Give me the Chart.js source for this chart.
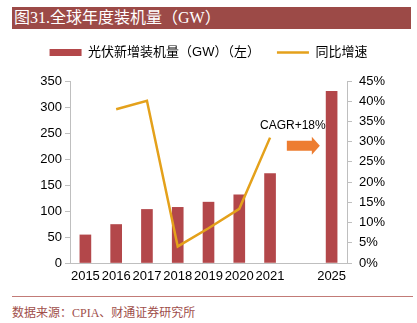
<!DOCTYPE html>
<html>
<head>
<meta charset="utf-8">
<script src="https://cdn.jsdelivr.net/npm/chart.js@4.4.0/dist/chart.umd.min.js"></script>
<style>
  body { margin: 0; width: 417px; height: 323px; background: #fff; position: relative; overflow: hidden; }
  #title { position: absolute; left: 12px; top: 7px; width: 399px; height: 22px; background: #9c4a47; color: #fff;
           font: 16px "Liberation Serif", "Noto Sans CJK SC", serif; line-height: 22px; padding-left: 2px; box-sizing: border-box; }
  #wrap { position: absolute; left: 0; top: 29px; width: 417px; height: 263px; }
  #rule { position: absolute; left: 12px; top: 296px; width: 401px; height: 1px; background: #c27b77; }
  #src { position: absolute; left: 12px; top: 303px; font: 12px "Liberation Serif", "Noto Sans CJK SC", serif; color: #a04e4a; }
</style>
</head>
<body>
<div id="title">图31.全球年度装机量（GW）</div>
<div id="wrap"><canvas id="chart" width="417" height="263"></canvas></div>
<div id="rule"></div>
<div id="src">数据来源：CPIA、财通证券研究所</div>
<script>
// data
var years = ['2015', '2016', '2017', '2018', '2019', '2020', '2021', '', '2025'];
var capacity = [54, 74, 103, 107, 117, 131, 172, null, 330];   // GW, left axis
var growth = [null, 38.0, 40.1, 4.1, 8.6, 13.4, 31.0, null, null]; // %, right axis
var barName = '光伏新增装机量（GW）（左）';
var lineName = '同比增速';
var note = 'CAGR+18%';

Chart.defaults.font.family = '"Liberation Sans", Arial, "Noto Sans CJK SC", sans-serif';
Chart.defaults.font.size = 13;
Chart.defaults.color = '#000';

var axisGrey = '#bfbfbf';

// keep legend height fixed so the plot sits where the original does
var legendGap = {
  id: 'legendGap',
  afterInit: function(chart) {
    var fit = chart.legend.fit;
    chart.legend.fit = function() {
      fit.call(this);
      this.height = 52;
    };
  }
};

// CAGR text + orange arrow between 2021 and 2025
var cagrNote = {
  id: 'cagrNote',
  afterDatasetsDraw: function(chart) {
    var ctx = chart.ctx;
    var cx = chart.scales.x.getPixelForValue(7);
    var ay = chart.scales.y1.getPixelForValue(29);
    var ty = chart.scales.y1.getPixelForValue(34);
    ctx.save();
    ctx.fillStyle = '#000';
    ctx.font = '12px "Liberation Sans", Arial, sans-serif';
    ctx.textAlign = 'center';
    ctx.textBaseline = 'middle';
    ctx.fillText(note, cx - 8, ty);
    ctx.fillStyle = '#ed7d31';
    ctx.beginPath();
    ctx.moveTo(cx - 14, ay - 5);
    ctx.lineTo(cx + 11, ay - 5);
    ctx.lineTo(cx + 11, ay - 9);
    ctx.lineTo(cx + 19, ay);
    ctx.lineTo(cx + 11, ay + 9);
    ctx.lineTo(cx + 11, ay + 5);
    ctx.lineTo(cx - 14, ay + 5);
    ctx.closePath();
    ctx.fill();
    ctx.restore();
  }
};

new Chart(document.getElementById('chart').getContext('2d'), {
  type: 'bar',
  data: {
    labels: years,
    datasets: [{
      type: 'bar',
      label: barName,
      data: capacity,
      backgroundColor: '#b3474a',
      borderWidth: 0,
      barThickness: 11,
      pointStyle: 'rect',
      yAxisID: 'y',
      order: 2
    }, {
      type: 'line',
      label: lineName,
      data: growth,
      borderColor: '#e4a11b',
      backgroundColor: '#e4a11b',
      borderWidth: 2.5,
      pointRadius: 0,
      tension: 0,
      pointStyle: 'line',
      yAxisID: 'y1',
      order: 1
    }]
  },
  options: {
    responsive: false,
    animation: false,
    layout: { padding: 0 },
    plugins: {
      legend: {
        position: 'top',
        labels: {
          usePointStyle: true, pointStyleWidth: 32, boxHeight: 7, padding: 17, color: '#000', font: { size: 13 },
          sort: function(a, b) { return a.datasetIndex - b.datasetIndex; }
        }
      },
      tooltip: { enabled: false }
    },
    scales: {
      x: {
        grid: { display: false, drawTicks: false },
        border: { color: axisGrey },
        ticks: { autoSkip: false, maxRotation: 0, padding: 6 },
        afterFit: function(s) { s.height = 29; }
      },
      y: {
        position: 'left',
        min: 0, max: 350,
        ticks: { stepSize: 50, padding: 3 },
        grid: { drawOnChartArea: false, tickLength: 5, color: axisGrey },
        border: { color: axisGrey },
        afterFit: function(s) { s.width = 70; }
      },
      y1: {
        position: 'right',
        min: 0, max: 45,
        ticks: { stepSize: 5, padding: 7, callback: function(v) { return v + '%'; } },
        grid: { drawOnChartArea: false, tickLength: 5, color: axisGrey },
        border: { color: axisGrey },
        afterFit: function(s) { s.width = 70; }
      }
    }
  },
  plugins: [legendGap, cagrNote]
});
</script>
</body>
</html>
